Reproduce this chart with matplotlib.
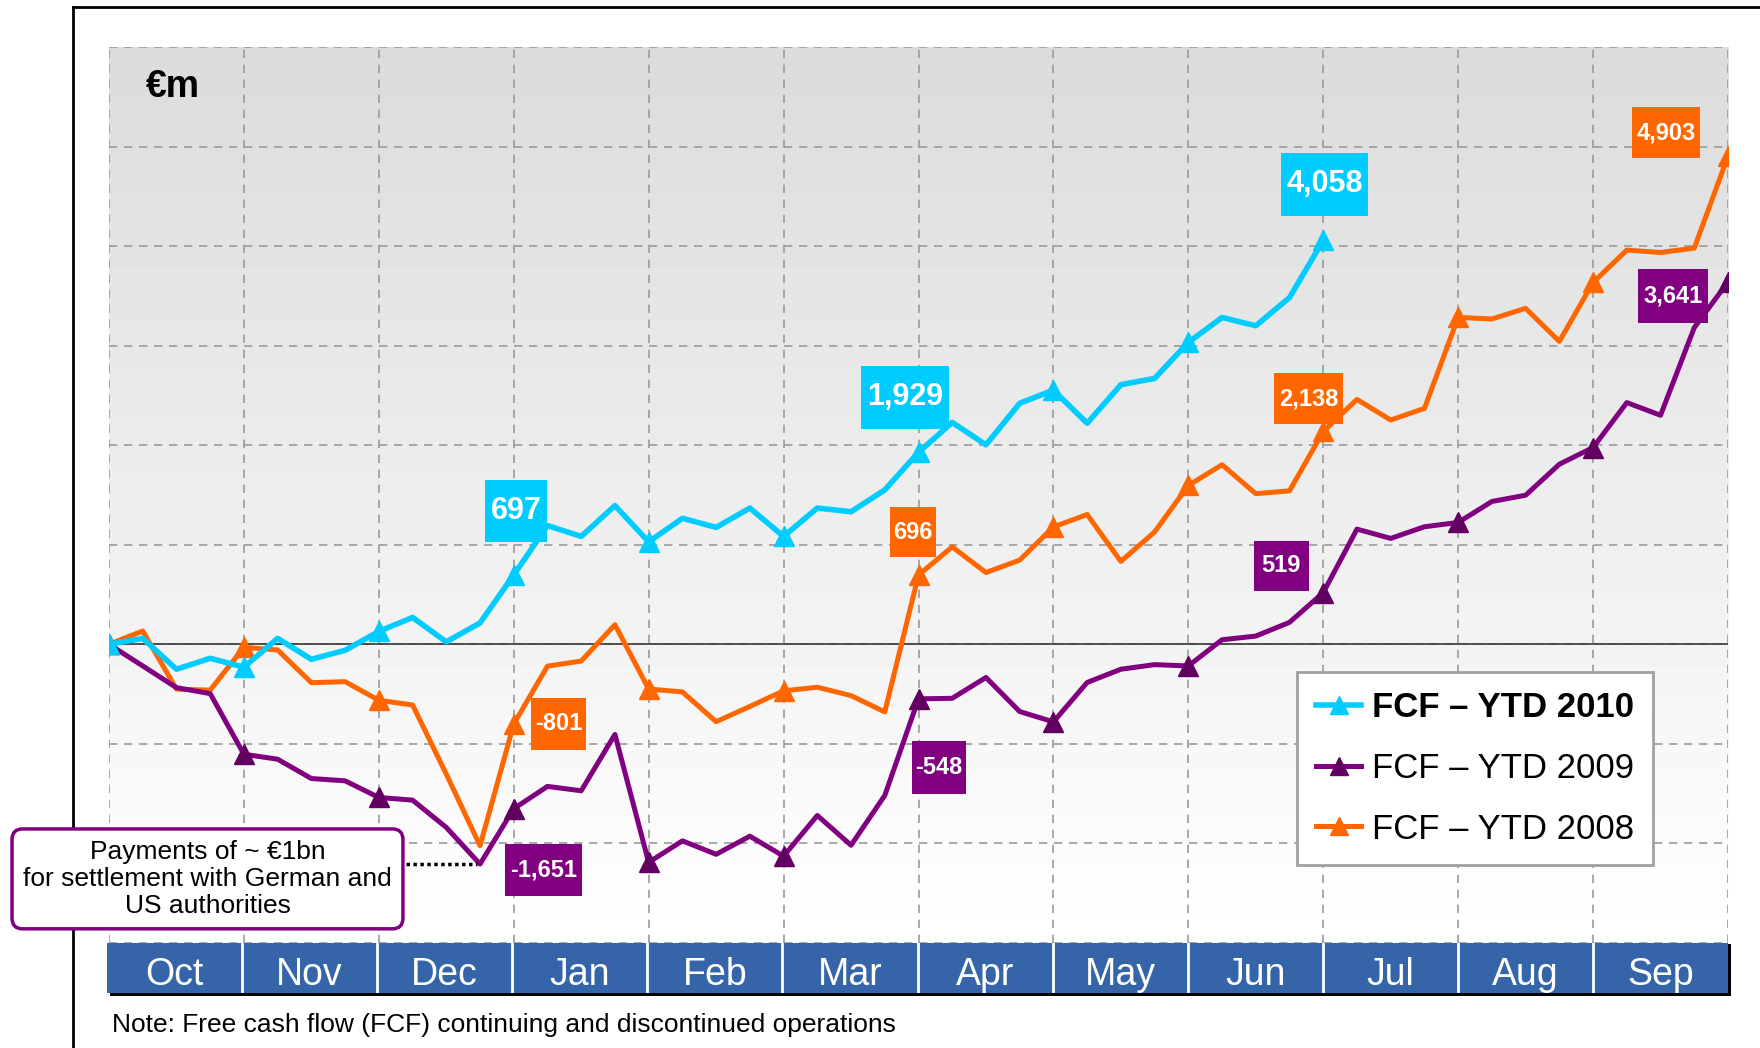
import numpy as np
import matplotlib.pyplot as plt
from matplotlib.lines import Line2D
from matplotlib.patches import Rectangle

plt.rcParams['font.family'] = ['Liberation Sans', 'DejaVu Sans']

months = ["Oct", "Nov", "Dec", "Jan", "Feb", "Mar", "Apr", "May", "Jun", "Jul", "Aug", "Sep"]

# free cash flow YTD, roughly weekly readings (4 per month), EUR m
fcf_2010 = [0, 60, -250, -140, -230, 60, -150, -60, 130, 270, 25, 215,
            697, 1193, 1084, 1394, 1029, 1266, 1175, 1369, 1084, 1369, 1332, 1551,
            1929, 2229, 2004, 2421, 2554, 2221, 2608, 2671, 3033, 3283, 3200, 3483,
            4058]
fcf_2009 = [0, -217, -435, -495, -1104, -1154, -1348, -1371, -1538, -1565, -1839, -2207,
            -1651, -1427, -1471, -905, -2190, -1974, -2109, -1927, -2128, -1719, -2018, -1518,
            -548, -542, -333, -675, -779, -383, -250, -204, -217, 46, 83, 221,
            519, 1157, 1064, 1181, 1224, 1435, 1498, 1809, 1977, 2428, 2301, 3181,
            3641]
fcf_2008 = [0, 134, -450, -460, -30, -57, -385, -375, -562, -609, -1304, -2023,
            -801, -219, -168, 197, -449, -478, -777, -624, -467, -431, -515, -679,
            696, 979, 721, 846, 1179, 1304, 833, 1129, 1596, 1804, 1513, 1542,
            2138, 2460, 2253, 2370, 3284, 3268, 3375, 3043, 3635, 3960, 3936, 3980,
            4903]

x10 = np.arange(len(fcf_2010)) / 4
x09 = np.arange(len(fcf_2009)) / 4
x08 = np.arange(len(fcf_2008)) / 4

c10 = "#00ccff"
c09 = "#800080"
c09m = "#620062"
c08 = "#ff6600"

W, H = 1760, 1048
fig = plt.figure(figsize=(W / 100, H / 100), dpi=100)
fig.patch.set_facecolor("white")

ax = fig.add_axes([109 / W, 1 - 943 / H, (1728 - 109) / W, (943 - 47) / H])
ax.set_zorder(1)

# grey (top) -> white (bottom) background
grad = np.linspace(1.0, 0.86, 256).reshape(-1, 1)
ax.imshow(grad, extent=[0, 12, -3000, 6000], aspect="auto", cmap="gray",
          vmin=0, vmax=1, zorder=0, origin="lower")
ax.set_xlim(0, 12)
ax.set_ylim(-3000, 6000)

ax.set_xticks(np.arange(0, 13))
ax.set_yticks(np.arange(-3000, 6001, 1000))
ax.tick_params(length=0, labelbottom=False, labelleft=False)
for s in ax.spines.values():
    s.set_visible(False)
ax.grid(True, color="#9a9a9a", linestyle=(0, (5, 4)), linewidth=1.2, zorder=1)
ax.axhline(0, color="#444444", linewidth=1.3, zorder=2)

ax.plot(x08, fcf_2008, color=c08, lw=3.6, marker="^", markevery=4, ms=15,
        mec=c08, mfc=c08, zorder=3, label="FCF \u2013 YTD 2008")
ax.plot(x09, fcf_2009, color=c09, lw=3.6, marker="^", markevery=4, ms=15,
        mec=c09m, mfc=c09m, zorder=4, label="FCF \u2013 YTD 2009")
ax.plot(x10, fcf_2010, color=c10, lw=4, marker="^", markevery=4, ms=15,
        mec=c10, mfc=c10, zorder=5, label="FCF \u2013 YTD 2010")

# value boxes: centre, box width (months), box height (EUR m)
def tag(x, y, s, col, size, w, h):
    ax.add_patch(Rectangle((x - w / 2, y - h / 2), w, h, fc=col, ec="none", zorder=7))
    ax.text(x, y, s, color="white", fontsize=size, fontweight="bold", ha="center", va="center",
            zorder=8)

tag(3.02, 1342, "697", c10, 22, 0.46, 620)
tag(5.90, 2480, "1,929", c10, 22, 0.65, 631)
tag(9.01, 4622, "4,058", c10, 22, 0.64, 631)
tag(11.54, 5141, "4,903", c08, 17, 0.51, 507)
tag(8.89, 2469, "2,138", c08, 17, 0.51, 507)
tag(5.96, 1127, "696", c08, 17, 0.34, 507)
tag(3.33, -800, "-801", c08, 17, 0.41, 519)
tag(11.59, 3495, "3,641", c09, 17, 0.52, 541)
tag(8.69, 789, "519", c09, 17, 0.41, 507)
tag(6.15, -1240, "-548", c09, 17, 0.40, 530)
tag(3.22, -2266, "-1,651", c09, 17, 0.565, 519)

ax.text(0.27, 5600, "\u20acm", fontsize=27, fontweight="bold", ha="left", va="center", zorder=6)

# settlement note
ax.plot([2.2, 2.73], [-2210, -2210], color="black", lw=2.5, linestyle=(0, (1, 1)), zorder=6,
        clip_on=False)
ax.text(0.73, -2356, "Payments of ~ \u20ac1bn\nfor settlement with German and\nUS authorities",
        fontsize=19, ha="center", va="center", linespacing=1.15, zorder=9, clip_on=False,
        bbox=dict(boxstyle="round,pad=0.42,rounding_size=0.4", fc="white", ec=c09, lw=2.5))

h = ax.get_legend_handles_labels()[0]
leg = ax.legend([h[2], h[1], h[0]], ["FCF \u2013 YTD 2010", "FCF \u2013 YTD 2009", "FCF \u2013 YTD 2008"],
                loc="upper left", bbox_to_anchor=(0.723, 0.322), fontsize=25, frameon=True,
                fancybox=False, edgecolor="#a0a0a0", framealpha=1, handlelength=1.3,
                labelspacing=0.8, borderpad=0.55, handletextpad=0.3, markerscale=0.9)
leg.get_frame().set_linewidth(2)
leg.get_texts()[0].set_fontweight("bold")
leg.set_zorder(10)

# month band under the plot, with a black drop shadow
fig.add_artist(Rectangle((110 / W, 1 - 996 / H), (1731 - 110) / W, 52 / H,
                         transform=fig.transFigure, fc="black", ec="none", zorder=1.5))
bar = fig.add_axes([107 / W, 1 - 993 / H, (1728 - 107) / W, 50 / H])
bar.set_zorder(2)
bar.set_facecolor("#3565a8")
bar.set_xlim(0, 12)
bar.set_ylim(0, 1)
bar.set_xticks([])
bar.set_yticks([])
for s in bar.spines.values():
    s.set_visible(False)
for i in range(1, 12):
    bar.axvline(i, color="white", lw=2)
for i, m in enumerate(months):
    bar.text(i + 0.5, 0.36, m, color="white", fontsize=27, ha="center", va="center")

fig.text(112 / W, 1 - 1025 / H, "Note: Free cash flow (FCF) continuing and discontinued operations",
         fontsize=19, ha="left", va="center")

# outer frame
fig.add_artist(Line2D([73 / W, 1], [1 - 7 / H, 1 - 7 / H], color="black", lw=2, zorder=-1))
fig.add_artist(Line2D([73 / W, 73 / W], [0, 1 - 7 / H], color="black", lw=2, zorder=-1))

fig.savefig("out.png", dpi=100)
